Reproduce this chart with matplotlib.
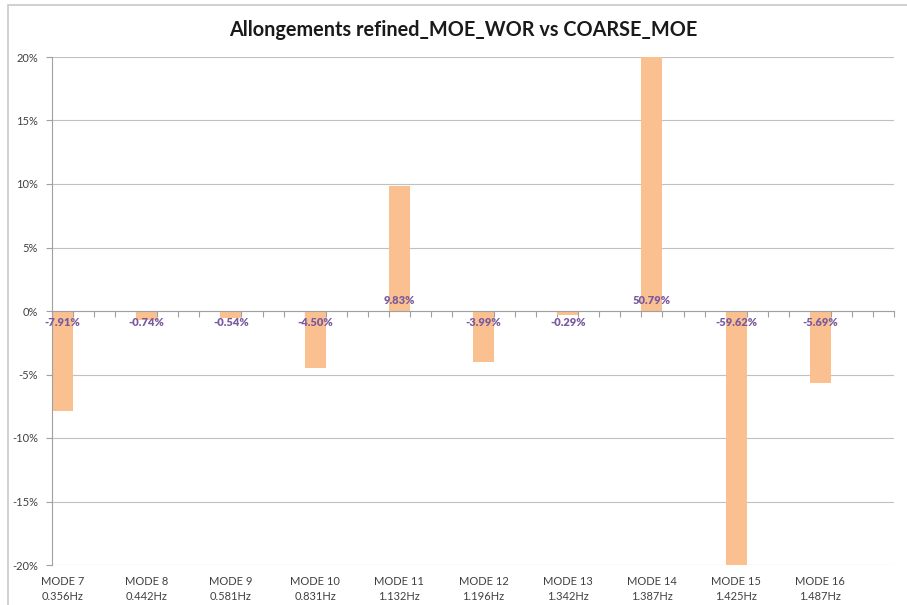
import numpy as np
import matplotlib
matplotlib.use("Agg")
from matplotlib import pyplot as plt
from matplotlib.patches import Rectangle
import matplotlib.transforms as mtransforms

plt.rcParams['font.family'] = ['Lato', 'DejaVu Sans']

# Relative change of each mode frequency (refined vs coarse), in %
modes = ["MODE 7", "MODE 8", "MODE 9", "MODE 10", "MODE 11",
         "MODE 12", "MODE 13", "MODE 14", "MODE 15", "MODE 16"]
freqs = ["0.356Hz", "0.442Hz", "0.581Hz", "0.831Hz", "1.132Hz",
         "1.196Hz", "1.342Hz", "1.387Hz", "1.425Hz", "1.487Hz"]
elongation = [-7.91, -0.74, -0.54, -4.50, 9.83, -3.99, -0.29, 50.79, -59.62, -5.69]

W, H = 907, 605
fig = plt.figure(figsize=(W / 100, H / 100), dpi=100)
ax = fig.add_axes([52 / W, (H - 565) / H, (894 - 52) / W, (565 - 57) / H])

# chart area frame
fig.patches.append(Rectangle((8 / W, -0.1), 1.2, (H - 5) / H + 0.1,
                             transform=fig.transFigure, fill=False,
                             edgecolor='#c8c8c8', linewidth=1.2))

x = np.arange(len(modes))
ax.bar(x, elongation, width=0.25, color='#fac090', zorder=2)

ax.set_xlim(-0.125, len(modes) - 0.125)
ax.set_ylim(-20, 20)
yt = np.arange(-20, 21, 5)
ax.set_yticks(yt)
ax.set_yticklabels([f"{v}%" for v in yt], fontsize=8, color='#404040')
ax.yaxis.grid(True, color='#c0c0c0', linewidth=0.8, zorder=0)
ax.tick_params(axis='y', length=4, color='#a0a0a0', pad=6)

# horizontal axis drawn through zero, categories written below the plot
for s in ['top', 'right']:
    ax.spines[s].set_visible(False)
ax.spines['left'].set_color('#a0a0a0')
ax.spines['bottom'].set_position(('data', 0))
ax.spines['bottom'].set_color('#a0a0a0')
ax.set_xticks(np.arange(-0.125, len(modes), 0.25))
ax.set_xticklabels([])
ax.tick_params(axis='x', length=4, color='#a0a0a0', direction='out')

trans = mtransforms.blended_transform_factory(ax.transData, ax.transAxes)
for i in range(len(modes)):
    ax.text(x[i], -0.048, modes[i] + "\n" + freqs[i], transform=trans,
            ha='center', va='center', fontsize=8, color='#404040',
            linespacing=1.45)

for i, v in enumerate(elongation):
    off = 11 if v > 0 else -12
    ax.annotate(f"{v:.2f}%", (x[i], 0), xytext=(0, off), textcoords='offset pixels',
                ha='center', va='center', fontsize=8, fontweight='heavy',
                color='#7a5a9e', zorder=3)

fig.text(463 / W, 1 - 30 / H, "Allongements refined_MOE_WOR vs COARSE_MOE",
         ha='center', va='center', fontsize=14.3, fontweight='bold', color='#1a1a1a')

fig.savefig("out.png", dpi=100)
